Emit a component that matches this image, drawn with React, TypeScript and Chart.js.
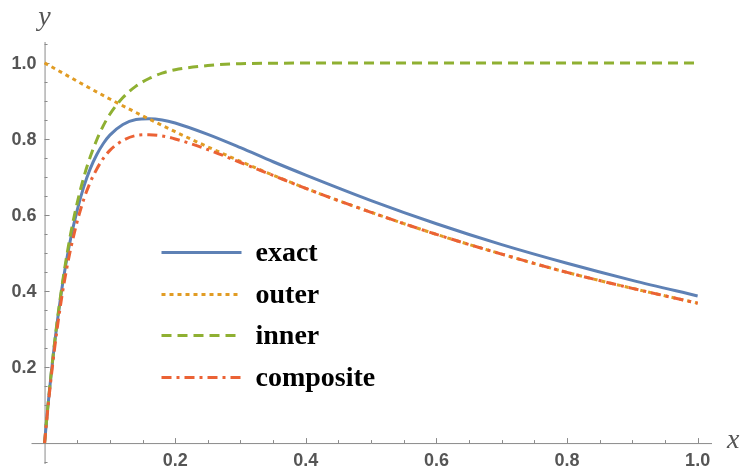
import React, { useEffect, useRef } from 'react';
import { Chart, registerables } from 'chart.js';

Chart.register(...registerables);

// ---- data ----
const seriesNames = ['exact', 'outer', 'inner', 'composite'];
const seriesColors = ['#5E81B5', '#E19C24', '#8FB032', '#EB6235'];
const seriesDashes: number[][] = [[], [4, 4], [10, 6], [10, 5, 3, 5]];

const xFine = [0, 0.005, 0.01, 0.015, 0.02, 0.025, 0.03, 0.04, 0.05, 0.06, 0.07, 0.08, 0.09, 0.1, 0.12, 0.14, 0.16, 0.18, 0.2, 0.25, 0.3, 0.35, 0.4, 0.5, 0.6, 0.7, 0.8, 0.9, 1.0];
const exactValues = [0, 0.095, 0.18, 0.257, 0.326, 0.388, 0.444, 0.538, 0.613, 0.674, 0.722, 0.759, 0.788, 0.81, 0.838, 0.851, 0.853, 0.85, 0.842, 0.812, 0.777, 0.74, 0.705, 0.638, 0.577, 0.522, 0.473, 0.428, 0.387];
const compositeValues = [0, 0.09, 0.171, 0.244, 0.31, 0.369, 0.422, 0.511, 0.583, 0.641, 0.686, 0.721, 0.749, 0.77, 0.796, 0.809, 0.811, 0.808, 0.8, 0.772, 0.738, 0.704, 0.67, 0.607, 0.549, 0.497, 0.449, 0.407, 0.368];

const xInner = [0, 0.005, 0.01, 0.015, 0.02, 0.025, 0.03, 0.04, 0.05, 0.06, 0.07, 0.08, 0.09, 0.1, 0.12, 0.14, 0.16, 0.18, 0.2, 0.25, 0.3, 0.35, 0.4, 0.6, 0.8, 1.0];
const innerValues = [0, 0.095, 0.181, 0.259, 0.33, 0.393, 0.451, 0.551, 0.632, 0.699, 0.753, 0.798, 0.835, 0.865, 0.909, 0.939, 0.959, 0.973, 0.982, 0.993, 0.998, 0.999, 1.0, 1.0, 1.0, 1.0];

const xOuter = [0, 0.1, 0.2, 0.3, 0.4, 0.5, 0.6, 0.7, 0.8, 0.9, 1.0];
const outerValues = [1.0, 0.905, 0.819, 0.741, 0.67, 0.607, 0.549, 0.497, 0.449, 0.407, 0.368];

const xTickValues = [0.2, 0.4, 0.6, 0.8, 1.0];
const xTickLabels = ['0.2', '0.4', '0.6', '0.8', '1.0'];
const yTickValues = [0.2, 0.4, 0.6, 0.8, 1.0];
const yTickLabels = ['0.2', '0.4', '0.6', '0.8', '1.0'];
const xMinorTicks = [0.05, 0.1, 0.15, 0.25, 0.3, 0.35, 0.45, 0.5, 0.55, 0.65, 0.7, 0.75, 0.85, 0.9, 0.95];
const yMinorTicks = [-0.05, 0.05, 0.1, 0.15, 0.25, 0.3, 0.35, 0.45, 0.5, 0.55, 0.65, 0.7, 0.75, 0.85, 0.9, 0.95, 1.05];

const toPoints = (xs: number[], ys: number[]) => xs.map((x, i) => ({ x, y: ys[i] }));

const axisColor = '#8a8a8a';
const labelColor = '#555555';

const axesPlugin = {
  id: 'mmaAxes',
  beforeDatasetsDraw(chart: any) {
    const { ctx, chartArea, scales } = chart;
    const xs = scales.x;
    const ys = scales.y;
    const x0 = xs.getPixelForValue(0);
    const y0 = ys.getPixelForValue(0);
    ctx.save();
    ctx.strokeStyle = axisColor;
    ctx.lineWidth = 1;
    ctx.beginPath();
    ctx.moveTo(chartArea.left, y0 + 0.5);
    ctx.lineTo(chartArea.right, y0 + 0.5);
    ctx.moveTo(x0 + 0.5, chartArea.top);
    ctx.lineTo(x0 + 0.5, chartArea.bottom);
    xTickValues.forEach((v) => {
      const p = Math.round(xs.getPixelForValue(v)) + 0.5;
      ctx.moveTo(p, y0);
      ctx.lineTo(p, y0 - 5);
    });
    yTickValues.forEach((v) => {
      const p = Math.round(ys.getPixelForValue(v)) + 0.5;
      ctx.moveTo(x0, p);
      ctx.lineTo(x0 + 5, p);
    });
    xMinorTicks.forEach((v) => {
      const p = Math.round(xs.getPixelForValue(v)) + 0.5;
      ctx.moveTo(p, y0);
      ctx.lineTo(p, y0 - 3);
    });
    yMinorTicks.forEach((v) => {
      const p = Math.round(ys.getPixelForValue(v)) + 0.5;
      ctx.moveTo(x0, p);
      ctx.lineTo(x0 + 3, p);
    });
    ctx.stroke();

    ctx.fillStyle = labelColor;
    ctx.font = "bold 18px 'Liberation Sans', Arial, sans-serif";
    ctx.textAlign = 'center';
    ctx.textBaseline = 'middle';
    xTickValues.forEach((v, i) => {
      ctx.fillText(xTickLabels[i], xs.getPixelForValue(v), y0 + 18);
    });
    ctx.textAlign = 'right';
    yTickValues.forEach((v, i) => {
      ctx.fillText(yTickLabels[i], x0 - 8, ys.getPixelForValue(v) + 1);
    });

    ctx.font = "italic 28px 'Liberation Serif', 'Times New Roman', serif";
    ctx.textAlign = 'center';
    ctx.fillText('y', x0, chartArea.top - 24);
    ctx.textAlign = 'left';
    ctx.fillText('x', chartArea.right + 15, y0 - 2);
    ctx.restore();
  },
  afterDraw(chart: any) {
    const { ctx, chartArea } = chart;
    ctx.save();
    const lineLeft = chartArea.left + 130;
    const lineRight = lineLeft + 80;
    const top = chartArea.top + 210;
    const step = 41.6;
    seriesNames.forEach((name, i) => {
      const y = Math.round(top + i * step) + 0.5;
      ctx.strokeStyle = seriesColors[i];
      ctx.lineWidth = 3;
      ctx.setLineDash(seriesDashes[i]);
      ctx.beginPath();
      ctx.moveTo(lineLeft, y);
      ctx.lineTo(lineRight, y);
      ctx.stroke();
      ctx.setLineDash([]);
      ctx.fillStyle = '#000000';
      ctx.font = "bold 28px 'Liberation Serif', 'Times New Roman', serif";
      ctx.textAlign = 'left';
      ctx.textBaseline = 'middle';
      ctx.fillText(name, lineRight + 14, y + 1);
    });
    ctx.restore();
  },
};

export default function App() {
  const canvasRef = useRef<HTMLCanvasElement | null>(null);

  useEffect(() => {
    if (!canvasRef.current) return;
    const allX = [xFine, xOuter, xInner, xFine];
    const allY = [exactValues, outerValues, innerValues, compositeValues];
    const chart = new Chart(canvasRef.current, {
      type: 'line',
      data: {
        datasets: seriesNames.map((name, i) => ({
          label: name,
          data: toPoints(allX[i], allY[i]),
          borderColor: seriesColors[i],
          backgroundColor: seriesColors[i],
          borderWidth: 3,
          borderDash: seriesDashes[i],
          pointRadius: 0,
          fill: false,
          cubicInterpolationMode: 'monotone' as const,
          order: seriesNames.length - i,
        })),
      },
      options: {
        animation: false,
        responsive: false,
        maintainAspectRatio: false,
        layout: { padding: { left: 31.5, right: 29, top: 42, bottom: 6 } },
        scales: {
          x: { type: 'linear', min: -0.02, max: 1.022, display: false },
          y: { type: 'linear', min: -0.055, max: 1.055, display: false },
        },
        plugins: {
          legend: { display: false },
          tooltip: { enabled: false },
        },
      },
      plugins: [axesPlugin],
    });
    return () => chart.destroy();
  }, []);

  return (
    <div style={{ position: 'fixed', left: 0, top: 0, width: 741, height: 470, background: '#ffffff' }}>
      <canvas ref={canvasRef} width={741} height={470} style={{ width: 741, height: 470, display: 'block' }} />
    </div>
  );
}
